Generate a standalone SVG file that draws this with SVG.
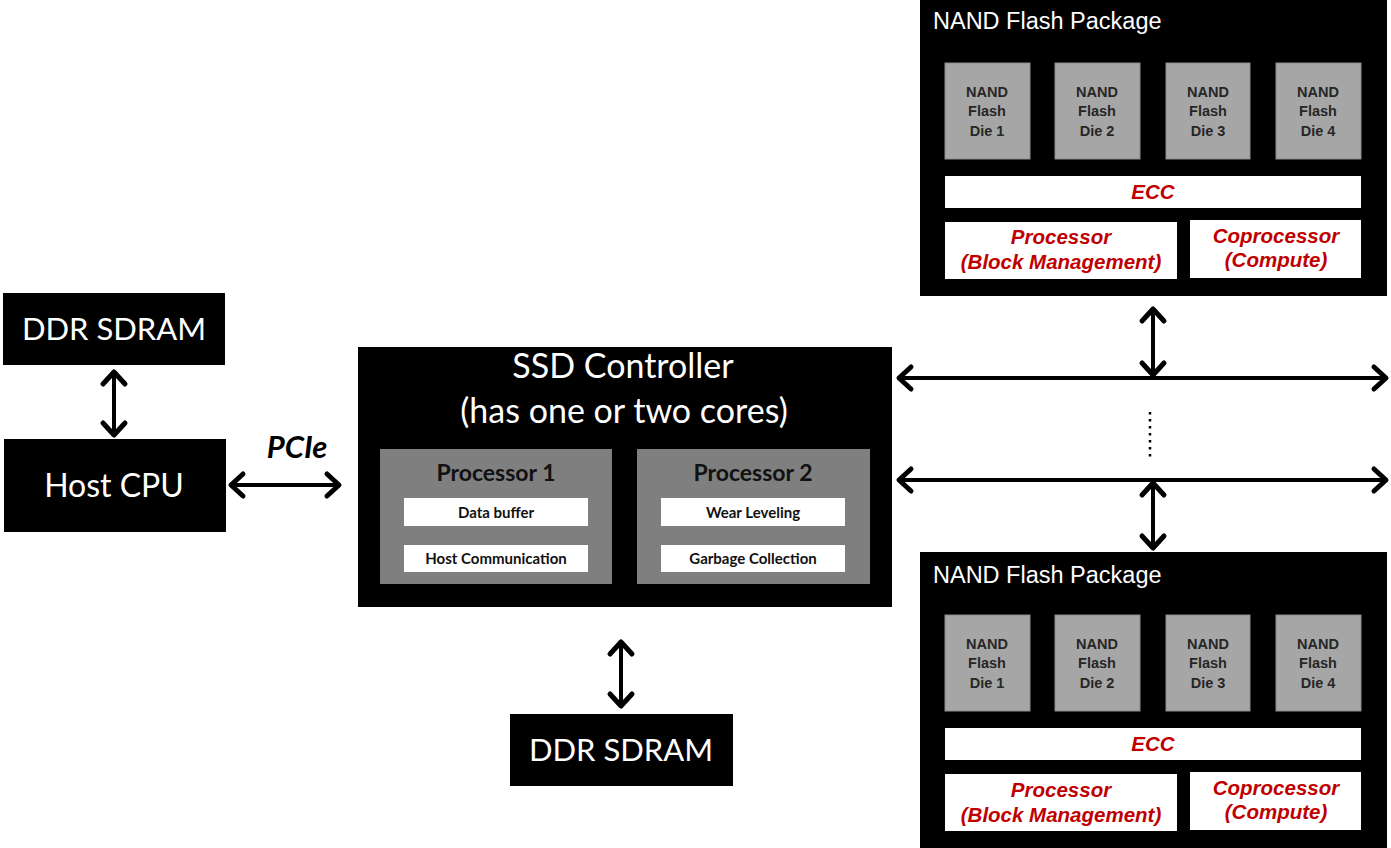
<svg xmlns="http://www.w3.org/2000/svg" width="1391" height="848" viewBox="0 0 1391 848">
  <defs>
    <style>
      .blk { fill: #000; }
      .cal { font-family: Lato, "Open Sans", sans-serif; fill: #fff; text-anchor: middle; }
      .die { fill: #a6a6a6; stroke: #8c8c8c; stroke-width: 1; }
      .dietxt { font-family: "Liberation Sans", Arial, sans-serif; font-weight: bold; font-size: 14.5px; fill: #262626; text-anchor: middle; }
      .wbox { fill: #fff; }
      .red { font-family: "Liberation Sans", Arial, sans-serif; font-weight: bold; font-style: italic; font-size: 20.5px; fill: #c00000; text-anchor: middle; }
      .pkgtitle { font-family: "Liberation Sans", Arial, sans-serif; font-size: 23.5px; fill: #fff; }
      .proc { fill: #7f7f7f; }
      .proctitle { font-family: Lato, "Open Sans", sans-serif; font-weight: bold; font-size: 23px; fill: #111; text-anchor: middle; }
      .task { font-family: Lato, "Open Sans", sans-serif; font-weight: bold; font-size: 15px; fill: #111; text-anchor: middle; }
      .link { stroke: #000; stroke-width: 4; fill: none; }
    </style>
    <marker id="ah" markerUnits="userSpaceOnUse" markerWidth="20" markerHeight="30" viewBox="-16 -15 20 30" refX="0" refY="0" orient="auto-start-reverse">
      <path d="M-12,-11 L0,0 L-12,11" fill="none" stroke="#000" stroke-width="5" stroke-linecap="round" stroke-linejoin="round"/>
    </marker>
  </defs>

  <rect width="1391" height="848" fill="#fff"/>

  <!-- Host side memory -->
  <g id="host-ddr">
    <rect class="blk" x="3" y="293" width="222" height="72"/>
    <text class="cal" x="114" y="340" font-size="31">DDR SDRAM</text>
  </g>

  <g id="host-cpu">
    <rect class="blk" x="4" y="439" width="222" height="93"/>
    <text class="cal" x="114" y="497" font-size="32">Host CPU</text>
  </g>

  <!-- SSD controller with its two cores -->
  <g id="ssd-controller">
    <rect class="blk" x="358" y="347" width="534" height="260"/>
    <text class="cal" x="623" y="378" font-size="34">SSD Controller</text>
    <text class="cal" x="624" y="423" font-size="34">(has one or two cores)</text>
    <g id="processor-1">
      <rect class="proc" x="380" y="449" width="232" height="135"/>
      <text class="proctitle" x="496" y="481">Processor 1</text>
      <rect class="wbox" x="404" y="498" width="184" height="28"/>
      <text class="task" x="496" y="518">Data buffer</text>
      <rect class="wbox" x="404" y="545" width="184" height="27"/>
      <text class="task" x="496" y="564">Host Communication</text>
    </g>
    <g id="processor-2">
      <rect class="proc" x="637" y="449" width="233" height="135"/>
      <text class="proctitle" x="753" y="481">Processor 2</text>
      <rect class="wbox" x="661" y="498" width="184" height="28"/>
      <text class="task" x="753" y="518">Wear Leveling</text>
      <rect class="wbox" x="661" y="545" width="184" height="27"/>
      <text class="task" x="753" y="564">Garbage Collection</text>
    </g>
  </g>

  <g id="ssd-ddr">
    <rect class="blk" x="510" y="714" width="223" height="72"/>
    <text class="cal" x="621" y="761" font-size="31">DDR SDRAM</text>
  </g>

  <!-- NAND flash package (upper) -->
  <g id="nand-package-1">
    <rect class="blk" x="920" y="0" width="467" height="296"/>
    <text class="pkgtitle" x="933" y="29">NAND Flash Package</text>
    <rect class="die" x="945" y="63" width="85" height="96"/>
    <text class="dietxt" x="987" y="97">NAND</text><text class="dietxt" x="987" y="116">Flash</text><text class="dietxt" x="987" y="136">Die 1</text>
    <rect class="die" x="1055" y="63" width="85" height="96"/>
    <text class="dietxt" x="1097" y="97">NAND</text><text class="dietxt" x="1097" y="116">Flash</text><text class="dietxt" x="1097" y="136">Die 2</text>
    <rect class="die" x="1166" y="63" width="84" height="96"/>
    <text class="dietxt" x="1208" y="97">NAND</text><text class="dietxt" x="1208" y="116">Flash</text><text class="dietxt" x="1208" y="136">Die 3</text>
    <rect class="die" x="1276" y="63" width="85" height="96"/>
    <text class="dietxt" x="1318" y="97">NAND</text><text class="dietxt" x="1318" y="116">Flash</text><text class="dietxt" x="1318" y="136">Die 4</text>
    <rect class="wbox" x="945" y="176" width="416" height="32"/>
    <text class="red" x="1153" y="199">ECC</text>
    <rect class="wbox" x="945" y="222" width="232" height="57"/>
    <text class="red" x="1061" y="244">Processor</text>
    <text class="red" x="1061" y="269">(Block Management)</text>
    <rect class="wbox" x="1190" y="220" width="171" height="58"/>
    <text class="red" x="1276" y="243">Coprocessor</text>
    <text class="red" x="1276" y="267">(Compute)</text>
  </g>

  <!-- NAND flash package (lower) -->
  <g id="nand-package-2">
    <rect class="blk" x="920" y="552" width="467" height="296"/>
    <text class="pkgtitle" x="933" y="583">NAND Flash Package</text>
    <rect class="die" x="945" y="615" width="85" height="96"/>
    <text class="dietxt" x="987" y="649">NAND</text><text class="dietxt" x="987" y="668">Flash</text><text class="dietxt" x="987" y="688">Die 1</text>
    <rect class="die" x="1055" y="615" width="85" height="96"/>
    <text class="dietxt" x="1097" y="649">NAND</text><text class="dietxt" x="1097" y="668">Flash</text><text class="dietxt" x="1097" y="688">Die 2</text>
    <rect class="die" x="1166" y="615" width="84" height="96"/>
    <text class="dietxt" x="1208" y="649">NAND</text><text class="dietxt" x="1208" y="668">Flash</text><text class="dietxt" x="1208" y="688">Die 3</text>
    <rect class="die" x="1276" y="615" width="85" height="96"/>
    <text class="dietxt" x="1318" y="649">NAND</text><text class="dietxt" x="1318" y="668">Flash</text><text class="dietxt" x="1318" y="688">Die 4</text>
    <rect class="wbox" x="945" y="728" width="416" height="32"/>
    <text class="red" x="1153" y="751">ECC</text>
    <rect class="wbox" x="945" y="774" width="232" height="57"/>
    <text class="red" x="1061" y="797">Processor</text>
    <text class="red" x="1061" y="822">(Block Management)</text>
    <rect class="wbox" x="1190" y="772" width="171" height="58"/>
    <text class="red" x="1276" y="795">Coprocessor</text>
    <text class="red" x="1276" y="819">(Compute)</text>
  </g>

  <!-- Connectors -->
  <g id="connectors">
    <line class="link" x1="114" y1="372" x2="114" y2="435" marker-start="url(#ah)" marker-end="url(#ah)"/>
    <line class="link" x1="231" y1="485" x2="339" y2="485" marker-start="url(#ah)" marker-end="url(#ah)"/>
    <text x="297" y="458" font-family="Lato, 'Open Sans', sans-serif" font-weight="bold" font-style="italic" font-size="31" fill="#000" text-anchor="middle">PCIe</text>
    <line class="link" x1="621" y1="642" x2="621" y2="706" marker-start="url(#ah)" marker-end="url(#ah)"/>
    <line class="link" x1="899" y1="378" x2="1386" y2="378" marker-start="url(#ah)" marker-end="url(#ah)"/>
    <line class="link" x1="899" y1="480" x2="1386" y2="480" marker-start="url(#ah)" marker-end="url(#ah)"/>
    <line class="link" x1="1153" y1="309" x2="1153" y2="375" marker-start="url(#ah)" marker-end="url(#ah)"/>
    <line class="link" x1="1153" y1="483" x2="1153" y2="548" marker-start="url(#ah)" marker-end="url(#ah)"/>
    <line x1="1150" y1="412" x2="1150" y2="458" stroke="#000" stroke-width="2.5" stroke-dasharray="2.5 4.5"/>
  </g>
</svg>
